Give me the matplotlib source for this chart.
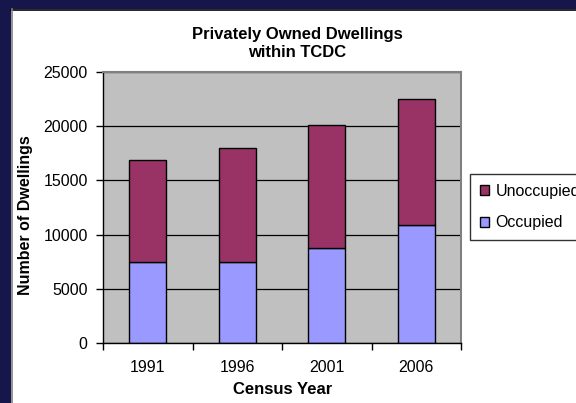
import matplotlib
matplotlib.use("Agg")
import matplotlib.pyplot as plt
from matplotlib.patches import Rectangle, Patch
from matplotlib.lines import Line2D
import numpy as np

years = ["1991", "1996", "2001", "2006"]
occupied = [7450, 7450, 8800, 10900]
unoccupied = [9450, 10550, 11300, 11600]
yticks = [0, 5000, 10000, 15000, 20000, 25000]

plt.rcParams['font.family'] = ['Liberation Sans', 'DejaVu Sans']
FS = 11.5
W, H = 576, 403
fig = plt.figure(figsize=(W/100, H/100), dpi=100, facecolor='#16164a')

# white chart area
fig.patches.append(Rectangle((11/W, 0), 1 - 11/W, (H - 9)/H, transform=fig.transFigure,
                             facecolor='white', edgecolor='none', zorder=-5))
fig.lines.append(Line2D([11/W, 1], [(H - 9.5)/H]*2, transform=fig.transFigure, color='black', lw=1.2, zorder=-4))
fig.lines.append(Line2D([11.5/W]*2, [0, (H - 9)/H], transform=fig.transFigure, color='#808080', lw=1.2, zorder=-4))

ax = fig.add_axes([103/W, (H-343)/H, (461-103)/W, (343-72)/H])
ax.set_zorder(2)
ax.set_facecolor('#C0C0C0')
x = np.arange(len(years))
ax.set_axisbelow(True)
ax.yaxis.grid(True, color='black', lw=0.9)
b1 = ax.bar(x, occupied, width=0.41, color='#9999FF', edgecolor='black', lw=1, label='Occupied')
b2 = ax.bar(x, unoccupied, bottom=occupied, width=0.41, color='#993366', edgecolor='black', lw=1, label='Unoccupied')

ax.set_xlim(-0.5, len(years) - 0.5)
ax.set_ylim(0, 25000)
ax.set_yticks(yticks)
ax.set_yticklabels([str(v) for v in yticks])
ax.set_xticks(x)
ax.set_xticklabels(years)
ax.set_xticks(np.arange(-0.5, len(years)), minor=True)
ax.tick_params(axis='x', which='major', length=0, pad=12, labelsize=FS)
ax.tick_params(axis='x', which='minor', length=5, width=1, direction='out')
ax.tick_params(axis='y', length=5, width=1, direction='out', pad=6, labelsize=FS)
for s in ['left', 'bottom']:
    ax.spines[s].set_color('black')
    ax.spines[s].set_linewidth(1)
for s in ['top', 'right']:
    ax.spines[s].set_color('#808080')
    ax.spines[s].set_linewidth(1.5)

fig.text(297/W, (H-43.5)/H, "Privately Owned Dwellings\nwithin TCDC", ha='center', va='center',
         fontsize=12, fontweight='bold', linespacing=1.2)
fig.text(26/W, (H-215)/H, "Number of Dwellings", rotation=90, ha='center', va='center',
         fontsize=FS, fontweight='bold')
fig.text(283/W, (H-389)/H, "Census Year", ha='center', va='center', fontsize=12, fontweight='bold')

handles = [Patch(facecolor='#993366', edgecolor='black', lw=1),
           Patch(facecolor='#9999FF', edgecolor='black', lw=1)]
leg = fig.legend(handles, ['Unoccupied', 'Occupied'], loc='upper left',
                 bbox_to_anchor=(470/W, (H-174)/H), bbox_transform=fig.transFigure,
                 fontsize=FS, frameon=True, fancybox=False, borderpad=0.6,
                 labelspacing=1.05, handlelength=0.6, handleheight=0.6, handletextpad=0.4,
                 borderaxespad=0)
leg.get_frame().set_edgecolor('black')
leg.get_frame().set_linewidth(1)

fig.savefig("out.png", dpi=100, facecolor=fig.get_facecolor())
